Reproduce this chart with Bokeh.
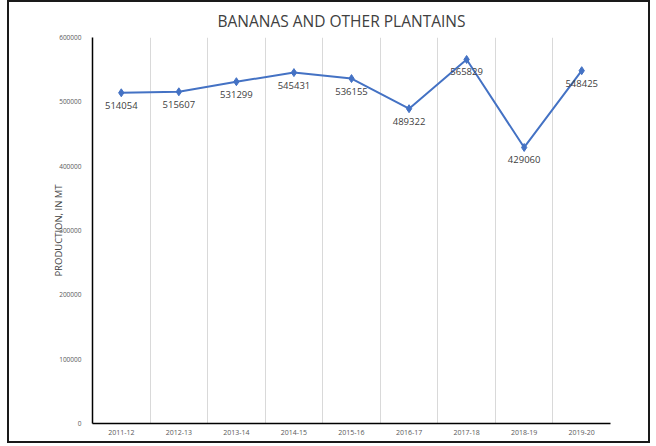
from bokeh.plotting import figure
from bokeh.models import FixedTicker, ColumnDataSource
from bokeh.core.properties import value
from bokeh.embed import file_html
from bokeh.resources import INLINE

title_text = "BANANAS AND OTHER PLANTAINS"
y_label = "PRODUCTION, IN MT"
years = ["2011-12", "2012-13", "2013-14", "2014-15", "2015-16",
         "2016-17", "2017-18", "2018-19", "2019-20"]
production = [514054, 515607, 531299, 545431, 536155, 489322, 565829, 429060, 548425]
y_ticks = [0, 100000, 200000, 300000, 400000, 500000, 600000]

FONT = "Open Sans"
xs = [i + 0.5 for i in range(len(years))]
src = ColumnDataSource(dict(x=xs, y=production, lbl=[str(v) for v in production]))

p = figure(width=639, height=439, output_backend="svg", toolbar_location=None,
           x_range=(0, len(years)), y_range=(0, 600000),
           min_border_left=83, min_border_right=38, min_border_top=35, min_border_bottom=18)
p.styles = {"margin-left": "9px", "margin-top": "2px", "outline": "2px solid #1a1a1a"}
p.outline_line_color = None

p.title.text = title_text
p.title.align = "left"
p.title.text_font = FONT
p.title.text_font_size = "15.5px"
p.title.text_font_style = "normal"
p.title.text_color = "#404040"
p.title.offset = 125
p.title.standoff = 11

p.line("x", "y", source=src, line_color="#4472C4", line_width=2)
p.scatter("x", "y", source=src, marker="diamond", size=8, color="#4472C4")
p.text("x", "y", text="lbl", source=src, text_align="center", text_baseline="top",
       y_offset=9, text_font=value(FONT), text_font_size="9.5px", text_color="#404040")

# x axis
p.xaxis.ticker = FixedTicker(ticks=xs)
p.xaxis.major_label_overrides = {x: y for x, y in zip(xs, years)}
p.xaxis.major_tick_line_color = None
p.xaxis.minor_tick_line_color = None
p.xaxis.major_label_text_font = FONT
p.xaxis.major_label_text_font_size = "7px"
p.xaxis.major_label_text_color = "#595959"
p.xaxis.major_label_standoff = 0
p.xaxis.axis_line_color = "#000000"
p.xaxis.axis_line_width = 1.5

# y axis
p.yaxis.ticker = FixedTicker(ticks=y_ticks)
p.yaxis.formatter.use_scientific = False
p.yaxis.major_tick_line_color = None
p.yaxis.minor_tick_line_color = None
p.yaxis.major_label_text_font = FONT
p.yaxis.major_label_text_font_size = "6.5px"
p.yaxis.major_label_text_color = "#595959"
p.yaxis.major_label_standoff = 5
p.yaxis.axis_line_color = "#000000"
p.yaxis.axis_line_width = 1.5
p.yaxis.axis_label = y_label
p.yaxis.axis_label_text_font = FONT
p.yaxis.axis_label_text_font_size = "9.5px"
p.yaxis.axis_label_text_font_style = "normal"
p.yaxis.axis_label_text_color = "#404040"
p.yaxis.axis_label_standoff = -9

# grids
p.ygrid.grid_line_color = None
p.xgrid.ticker = FixedTicker(ticks=list(range(1, len(years) + 1)))
p.xgrid.grid_line_color = "#d9d9d9"
p.xgrid.grid_line_width = 1

open("out.html", "w").write(file_html(p, INLINE))
